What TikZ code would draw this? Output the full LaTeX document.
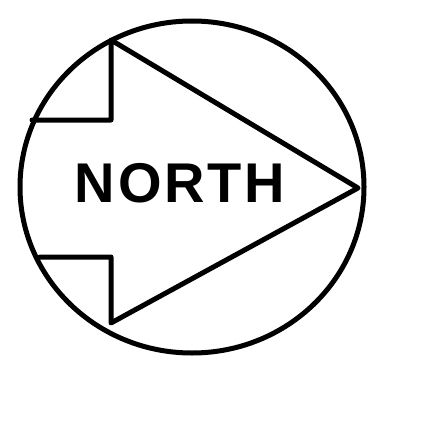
\documentclass[tikz,border=0pt]{standalone}
\usepackage{fontspec}
\setmainfont{Liberation Sans}
\newfontfamily\northfont[LetterSpace=5]{Liberation Sans}
\begin{document}
\begin{tikzpicture}[x=1pt, y=-1pt,
    outline/.style={line width=5pt, line cap=round, line join=round},
    northtext/.style={font=\northfont\bfseries\fontsize{56}{56}\selectfont, inner sep=0pt}
]
\useasboundingbox (0,0) rectangle (423,425);
\draw[outline] (192,187) ellipse [x radius=172, y radius=166];
\node[northtext] (north) at (180,183) {NORTH};
% arrow outline, shaft ends on the circle
\coordinate (tip) at (358,188);
\coordinate (headtop) at (111,40);
\coordinate (headbot) at (111,323);
\coordinate (basetop) at (111,120);
\coordinate (basebot) at (111,257);
\coordinate (shafttop) at (32,120);
\coordinate (shaftbot) at (40,257);
\draw[outline] (shafttop) -- (basetop) -- (headtop) -- (tip) -- (headbot) -- (basebot) -- (shaftbot);
\end{tikzpicture}
\end{document}
